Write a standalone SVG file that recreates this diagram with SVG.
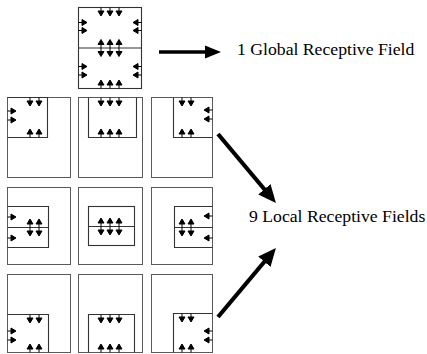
<svg xmlns="http://www.w3.org/2000/svg" xmlns:xlink="http://www.w3.org/1999/xlink" width="427" height="354" viewBox="0 0 427 354">
<style>
.o{fill:none;stroke:#5a5a5a;stroke-width:1}
.w{fill:none;stroke:#333;stroke-width:1.1}
.sa{fill:#000;stroke:#000;stroke-width:1}
.big{fill:none;stroke:#000;stroke-width:4.2;marker-end:url(#bh)}
.lbl{font-family:"Liberation Serif","Times New Roman",serif;font-size:17.7px;fill:#000}
</style>
<defs>
<path id="ad" class="sa" d="M0,0V4M-3,3.5H3L0,8.5Z"/>
<path id="au" class="sa" d="M0,0V-4M-3,-3.5H3L0,-8.5Z"/>
<path id="ar" class="sa" d="M0,0H4M3.5,-3V3L8.5,0Z"/>
<path id="al" class="sa" d="M0,0H-4M-3.5,-3V3L-8.5,0Z"/>
<marker id="bh" viewBox="0 -8 18 16" refX="1" refY="0" markerWidth="18" markerHeight="16" markerUnits="userSpaceOnUse" orient="auto">
<path d="M0,-8L18,0L0,8Z" fill="#000"/>
</marker>
<marker id="bhs" viewBox="0 -7 16 14" refX="1" refY="0" markerWidth="16" markerHeight="14" markerUnits="userSpaceOnUse" orient="auto">
<path d="M0,-6.5L16,0L0,6.5Z" fill="#000"/>
</marker>
</defs>
<rect width="427" height="354" fill="#fff"/>

<g id="global">
<rect class="w" x="78.5" y="7.5" width="63" height="81"/>
<line class="w" x1="78.5" y1="48" x2="141.5" y2="48"/>
<use href="#ad" x="101" y="7.5"/><use href="#ad" x="110" y="7.5"/><use href="#ad" x="119" y="7.5"/>
<use href="#ar" x="78.5" y="22.5"/><use href="#ar" x="78.5" y="30.5"/>
<use href="#al" x="141.5" y="22.5"/><use href="#al" x="141.5" y="30.5"/>
<use href="#au" x="101" y="48"/><use href="#au" x="110" y="48"/><use href="#au" x="119" y="48"/>
<use href="#ad" x="101" y="48"/><use href="#ad" x="110" y="48"/><use href="#ad" x="119" y="48"/>
<use href="#ar" x="78.5" y="66.5"/><use href="#ar" x="78.5" y="75"/>
<use href="#al" x="141.5" y="66.5"/><use href="#al" x="141.5" y="75"/>
<use href="#au" x="101" y="88.5"/><use href="#au" x="110" y="88.5"/><use href="#au" x="119" y="88.5"/>
</g>

<g id="local-r1c1">
<rect class="o" x="7.5" y="97.5" width="63" height="80"/>
<path class="w" d="M7.5,97.5H47.5V137.5H7.5"/>
<use href="#ad" x="30" y="97.5"/><use href="#ad" x="39" y="97.5"/>
<use href="#ar" x="7.5" y="111"/><use href="#ar" x="7.5" y="120"/>
<use href="#au" x="30" y="137.5"/><use href="#au" x="39" y="137.5"/>
</g>
<g id="local-r1c2">
<rect class="o" x="78.5" y="97.5" width="64" height="80"/>
<path class="w" d="M88.5,97.5V137.5H136.5V97.5"/>
<use href="#ad" x="101" y="97.5"/><use href="#ad" x="110" y="97.5"/><use href="#ad" x="119" y="97.5"/>
<use href="#au" x="101" y="137.5"/><use href="#au" x="110" y="137.5"/><use href="#au" x="119" y="137.5"/>
</g>
<g id="local-r1c3">
<rect class="o" x="151.5" y="97.5" width="61" height="80"/>
<path class="w" d="M173.5,97.5V137.5H212.5"/>
<use href="#ad" x="182" y="97.5"/><use href="#ad" x="191" y="97.5"/>
<use href="#al" x="212.5" y="110"/><use href="#al" x="212.5" y="119"/>
<use href="#au" x="182" y="137.5"/><use href="#au" x="191" y="137.5"/>
</g>

<g id="local-r2c1">
<rect class="o" x="7.5" y="187.5" width="63" height="77"/>
<path class="w" d="M7.5,206.5H48.5V247.5H7.5M7.5,227.5H48.5"/>
<use href="#ar" x="7.5" y="217"/><use href="#ar" x="7.5" y="238"/>
<use href="#au" x="30" y="227.5"/><use href="#au" x="39" y="227.5"/>
<use href="#ad" x="30" y="227.5"/><use href="#ad" x="39" y="227.5"/>
</g>
<g id="local-r2c2">
<rect class="o" x="78.5" y="187.5" width="64" height="77"/>
<rect class="w" x="88.5" y="206.5" width="46" height="39"/>
<line class="w" x1="88.5" y1="226.5" x2="134.5" y2="226.5"/>
<use href="#au" x="101" y="226.5"/><use href="#au" x="110" y="226.5"/><use href="#au" x="119" y="226.5"/>
<use href="#ad" x="101" y="226.5"/><use href="#ad" x="110" y="226.5"/><use href="#ad" x="119" y="226.5"/>
</g>
<g id="local-r2c3">
<rect class="o" x="151.5" y="187.5" width="61" height="77"/>
<path class="w" d="M212.5,206.5H174.5V247.5H212.5M174.5,227.5H212.5"/>
<use href="#al" x="212.5" y="216"/><use href="#al" x="212.5" y="238"/>
<use href="#au" x="182" y="227.5"/><use href="#au" x="191" y="227.5"/>
<use href="#ad" x="182" y="227.5"/><use href="#ad" x="191" y="227.5"/>
</g>

<g id="local-r3c1">
<rect class="o" x="7.5" y="274.5" width="63" height="78"/>
<path class="w" d="M7.5,314.5H48.5V352.5"/>
<use href="#ad" x="30" y="314.5"/><use href="#ad" x="39" y="314.5"/>
<use href="#ar" x="7.5" y="331"/><use href="#ar" x="7.5" y="340"/>
<use href="#au" x="30" y="352.5"/><use href="#au" x="39" y="352.5"/>
</g>
<g id="local-r3c2">
<rect class="o" x="78.5" y="274.5" width="64" height="78"/>
<path class="w" d="M88.5,352.5V314.5H134.5V352.5"/>
<use href="#ad" x="101" y="314.5"/><use href="#ad" x="110" y="314.5"/><use href="#ad" x="119" y="314.5"/>
<use href="#au" x="101" y="352.5"/><use href="#au" x="110" y="352.5"/><use href="#au" x="119" y="352.5"/>
</g>
<g id="local-r3c3">
<rect class="o" x="151.5" y="274.5" width="61" height="78"/>
<path class="w" d="M173.5,352.5V313.5H212.5"/>
<use href="#ad" x="182" y="313.5"/><use href="#ad" x="191" y="313.5"/>
<use href="#al" x="212.5" y="331"/><use href="#al" x="212.5" y="340"/>
<use href="#au" x="182" y="352.5"/><use href="#au" x="191" y="352.5"/>
</g>

<g id="label-global"><text class="lbl" x="237" y="55">1 Global Receptive Field</text></g>
<g id="label-local"><text class="lbl" x="249" y="222">9 Local Receptive Fields</text></g>

<g id="connectors">
<line class="big" style="stroke-width:3.5;marker-end:url(#bhs)" x1="159" y1="52" x2="206" y2="52"/>
<line class="big" x1="218" y1="134" x2="265" y2="190"/>
<line class="big" x1="218" y1="317" x2="265" y2="261"/>
</g>
</svg>
